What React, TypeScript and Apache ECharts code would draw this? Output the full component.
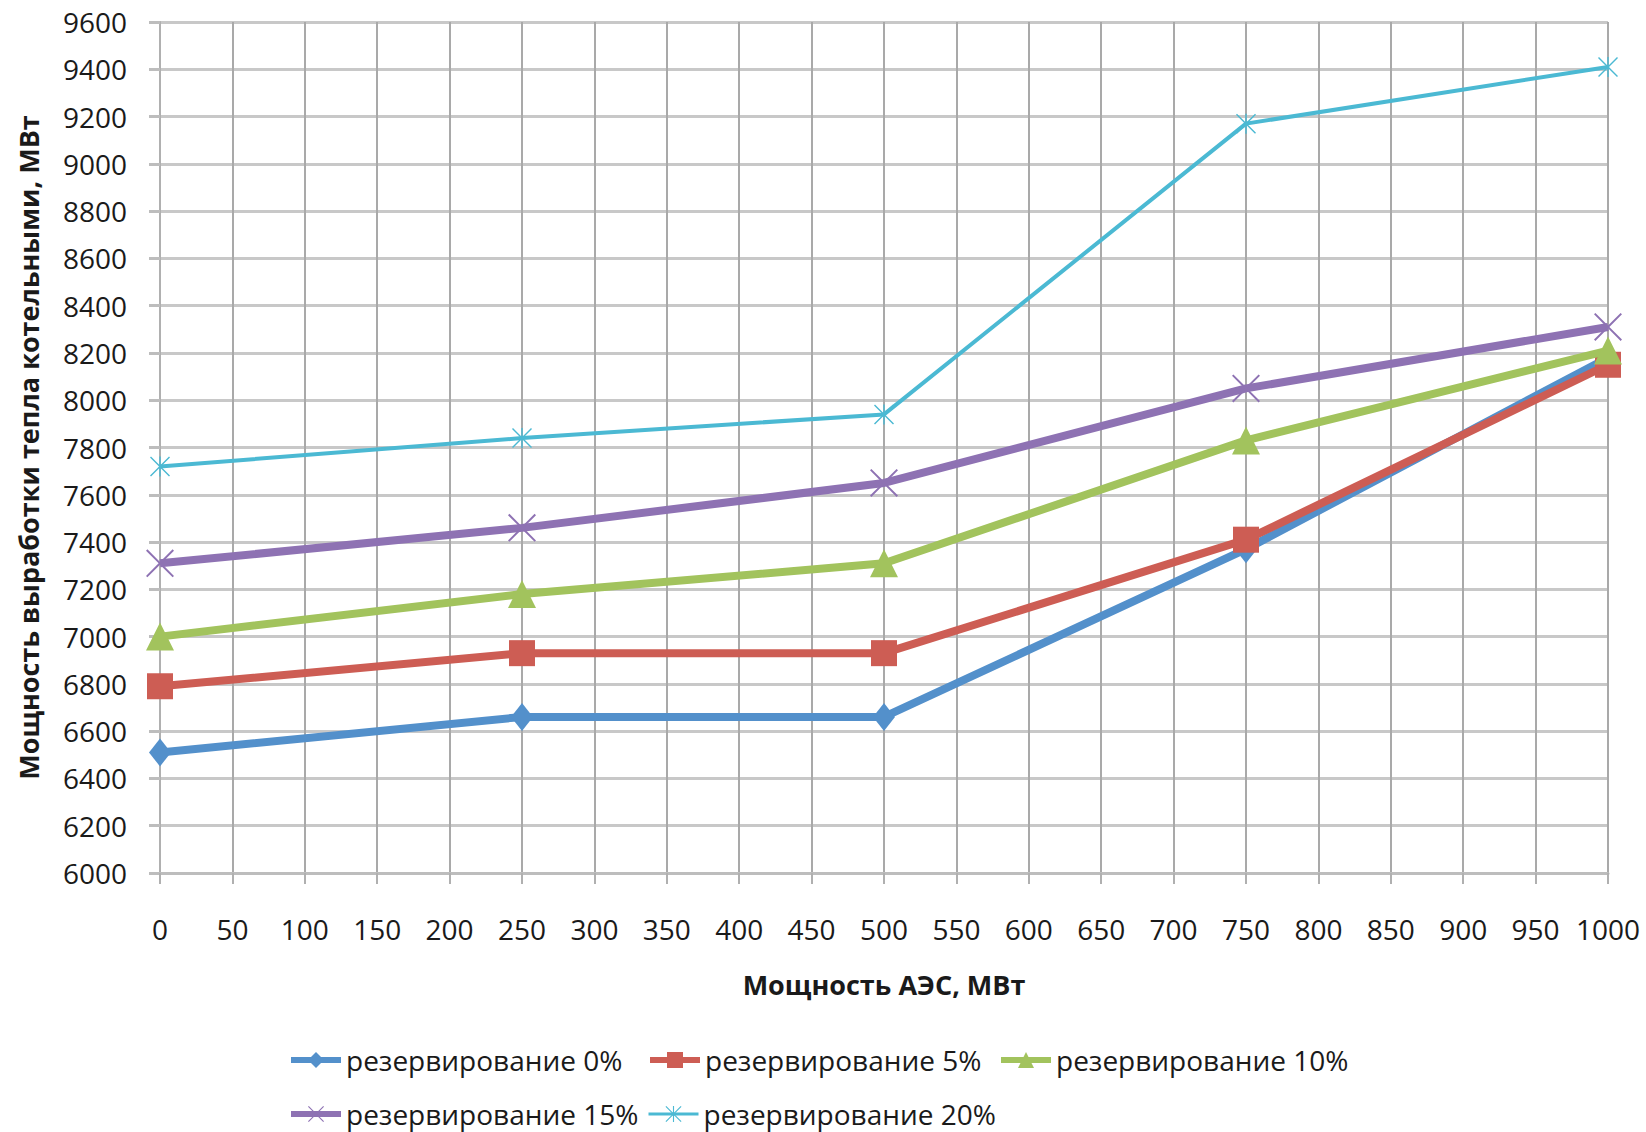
import React, { useEffect, useRef } from "react";
import * as echarts from "echarts";

const xValues = [0, 250, 500, 750, 1000];
const seriesNames = [
  "резервирование 0%",
  "резервирование 5%",
  "резервирование 10%",
  "резервирование 15%",
  "резервирование 20%",
];
const res0 = [6510, 6660, 6660, 7370, 8180];
const res5 = [6790, 6930, 6930, 7410, 8150];
const res10 = [7000, 7180, 7310, 7830, 8210];
const res15 = [7310, 7460, 7650, 8050, 8310];
const res20 = [7720, 7840, 7940, 9170, 9410];

const xAxisTitle = "Мощность АЭС, МВт";
const yAxisTitle = "Мощность выработки тепла котельными, МВт";

const FONT = "'Open Sans', 'Noto Sans', sans-serif";

const X_PATH =
  "path://M0,1 L1,0 L10,9 L19,0 L20,1 L11,10 L20,19 L19,20 L10,11 L1,20 L0,19 L9,10 Z";
const STAR_PATH =
  "path://M0,1 L1,0 L10,9 L19,0 L20,1 L11,10 L20,19 L19,20 L10,11 L1,20 L0,19 L9,10 Z M9.3,0 L10.7,0 L10.7,20 L9.3,20 Z";

export default function App() {
  const ref = useRef<HTMLDivElement>(null);

  useEffect(() => {
    document.body.style.margin = "0";
    if (!ref.current) return;
    const chart = echarts.init(ref.current, undefined, { renderer: "svg" });

    const colors = ["#5390CB", "#CD5D54", "#A2C35D", "#8E72B3", "#4BB9D3"];
    const datasets = [res0, res5, res10, res15, res20];
    const symbols = ["diamond", "rect", "triangle", X_PATH, STAR_PATH];
    const symbolSizes: any[] = [[22, 28], 26, 28, 28, 20];
    const widths = [8, 8, 8, 8, 4];
    const legendWidths = [6, 6, 6, 6, 3];

    const series = datasets.map((d, i) => ({
      name: seriesNames[i],
      type: "line",
      data: d.map((v, j) => [xValues[j], v]),
      symbol: symbols[i],
      symbolSize: symbolSizes[i],
      showSymbol: true,
      itemStyle: { color: colors[i] },
      lineStyle: { color: colors[i], width: widths[i] },
      z: 2 + i,
    }));

    const legendPos = [
      { left: 288, top: 1045 },
      { left: 647, top: 1045 },
      { left: 998, top: 1045 },
      { left: 288, top: 1099 },
      { left: 647, top: 1099 },
    ];

    const legends = seriesNames.map((n, i) => ({
      data: [n],
      left: legendPos[i].left,
      top: legendPos[i].top,
      padding: 0,
      itemWidth: 50,
      itemHeight: 20,
      itemGap: 0,
      selectedMode: false,
      lineStyle: { width: legendWidths[i] },
      textStyle: {
        fontFamily: FONT,
        fontSize: 28,
        lineHeight: 30,
        color: "#1a1a1a",
      },
    }));

    chart.setOption({
      animation: false,
      backgroundColor: "#ffffff",
      grid: { left: 160, right: 38, top: 22, bottom: 259 },
      legend: legends,
      xAxis: {
        type: "value",
        min: 0,
        max: 1000,
        interval: 50,
        name: xAxisTitle,
        nameLocation: "middle",
        nameGap: 98,
        nameTextStyle: {
          fontFamily: FONT,
          fontSize: 27,
          fontWeight: "bold",
          color: "#1a1a1a",
        },
        axisLine: { show: true, lineStyle: { color: "#bdbdbd", width: 3 } },
        axisTick: {
          show: true,
          inside: false,
          length: 11,
          lineStyle: { color: "#b0b0b0", width: 2 },
        },
        axisLabel: {
          fontFamily: FONT,
          fontSize: 28,
          color: "#1a1a1a",
          margin: 42,
          formatter: (v: number) => String(v),
        },
        splitLine: { show: true, lineStyle: { color: "#a9a9a9", width: 2 } },
      },
      yAxis: {
        type: "value",
        min: 6000,
        max: 9600,
        interval: 200,
        name: yAxisTitle,
        nameLocation: "middle",
        nameGap: 118,
        nameTextStyle: {
          fontFamily: FONT,
          fontSize: 27,
          fontWeight: "bold",
          color: "#1a1a1a",
        },
        axisLine: { show: true, lineStyle: { color: "#b0b0b0", width: 2 } },
        axisTick: {
          show: true,
          inside: false,
          length: 11,
          lineStyle: { color: "#bdbdbd", width: 3 },
        },
        axisLabel: {
          fontFamily: FONT,
          fontSize: 28,
          color: "#1a1a1a",
          margin: 33,
          formatter: (v: number) => String(v),
        },
        splitLine: { show: true, lineStyle: { color: "#c8c8c8", width: 3 } },
      },
      series,
    });

    return () => chart.dispose();
  }, []);

  return <div ref={ref} style={{ width: 1646, height: 1132 }} />;
}
